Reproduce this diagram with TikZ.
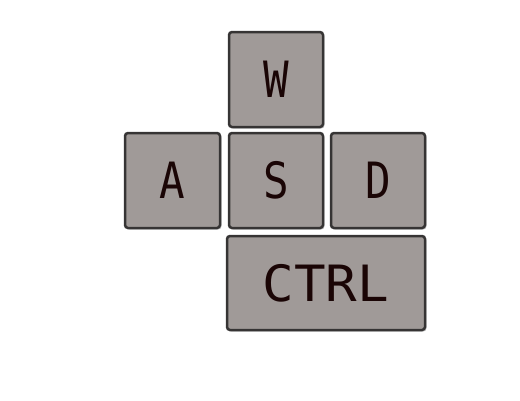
\documentclass[tikz,border=0pt]{standalone}
\usepackage{fontspec}
\newfontfamily\keyfont{DejaVu Sans Mono}
\usetikzlibrary{shadows}
\definecolor{keyfill}{HTML}{A09A98}
\definecolor{keyedge}{HTML}{363434}
\definecolor{keytext}{HTML}{1A0505}
\tikzset{
  key/.style={draw=keyedge, fill=keyfill, line width=2.5pt, rounded corners=3pt,
    inner sep=0pt, font=\keyfont\fontsize{50}{50}\selectfont, text=keytext,
    drop shadow={opacity=0.4, shadow xshift=1.5pt, shadow yshift=-1.5pt}},
}
\begin{document}
\begin{tikzpicture}[x=1pt,y=-1pt]
\useasboundingbox (0,0) rectangle (520,400);
\node[key, minimum width=94pt, minimum height=95pt] (w) at (276,79.5) {\raisebox{-2pt}{\scalebox{0.85}[1]{W}}};
\node[key, minimum width=95pt, minimum height=95pt] (a) at (172.5,180.5) {\raisebox{-2pt}{\scalebox{0.85}[1]{A}}};
\node[key, minimum width=94pt, minimum height=95pt] (s) at (276,180.5) {\raisebox{-2pt}{\scalebox{0.85}[1]{S}}};
\node[key, minimum width=94pt, minimum height=95pt] (d) at (378,180.5) {\raisebox{-2pt}{\scalebox{0.85}[1]{D}}};
\node[key, minimum width=198pt, minimum height=94pt] (ctrl) at (326,283) {\raisebox{-2pt}{\scalebox{1.05}[1]{CTRL}}};
\end{tikzpicture}
\end{document}
